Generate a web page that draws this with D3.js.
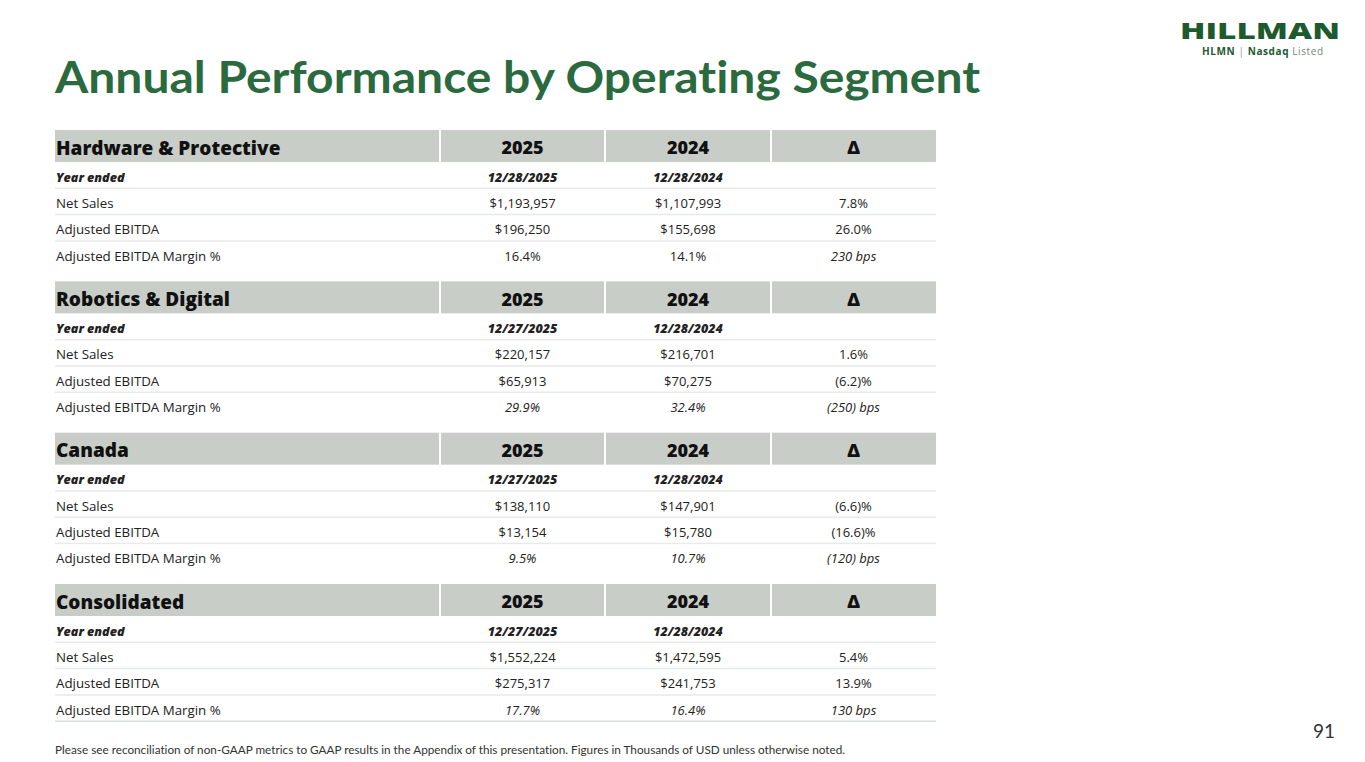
<!DOCTYPE html>
<html>
<head>
<meta charset="utf-8">
<script src="https://cdn.jsdelivr.net/npm/d3@7"></script>
<style>
  html, body { margin: 0; padding: 0; background: #fff; }
  svg { display: block; }
</style>
</head>
<body>
<div id="slide"></div>
<script>
// table values, thousands of USD
const segments = ["Hardware & Protective", "Robotics & Digital", "Canada", "Consolidated"];
const yearLabels = ["2025", "2024", "\u0394"];
const periodEnd2025 = ["12/28/2025", "12/27/2025", "12/27/2025", "12/27/2025"];
const periodEnd2024 = ["12/28/2024", "12/28/2024", "12/28/2024", "12/28/2024"];
const metrics = ["Net Sales", "Adjusted EBITDA", "Adjusted EBITDA Margin %"];

const netSales2025 = [1193957, 220157, 138110, 1552224];
const netSales2024 = [1107993, 216701, 147901, 1472595];
const netSalesChange = [7.8, 1.6, -6.6, 5.4];

const ebitda2025 = [196250, 65913, 13154, 275317];
const ebitda2024 = [155698, 70275, 15780, 241753];
const ebitdaChange = [26.0, -6.2, -16.6, 13.9];

const margin2025 = [16.4, 29.9, 9.5, 17.7];
const margin2024 = [14.1, 32.4, 10.7, 16.4];
const marginChangeBps = [230, -250, -120, 130];
const marginItalic = [false, true, true, true];

const width = 1365, height = 762;
const green = "#2b6a3e";
const bodyFont = "'Open Sans', sans-serif";

const money = d3.format("$,");
const pct = v => v < 0 ? `(${d3.format(".1f")(-v)})%` : `${d3.format(".1f")(v)}%`;
const bps = v => v < 0 ? `(${-v}) bps` : `${v} bps`;

const svg = d3.select("#slide").append("svg")
    .attr("width", width)
    .attr("height", height)
    .attr("viewBox", [0, 0, width, height]);

// title
svg.append("text")
    .attr("x", 55).attr("y", 93)
    .attr("fill", green)
    .style("font", `bold 44px 'Lato', sans-serif`)
    .style("font-variant-ligatures", "none")
    .style("font-feature-settings", "'liga' 0, 'clig' 0")
    .attr("textLength", 925)
    .attr("lengthAdjust", "spacingAndGlyphs")
    .text("Annual Performance by Operating Segment");

// logo
const logo = svg.append("g");
logo.append("text")
    .attr("x", 1180).attr("y", 38.5)
    .attr("fill", "#1d5a2e")
    .style("font", `900 22px 'Open Sans', sans-serif`)
    .attr("textLength", 160)
    .attr("lengthAdjust", "spacingAndGlyphs")
    .text("HILLMAN");
const sub = logo.append("text")
    .attr("x", 1202).attr("y", 54.5)
    .attr("textLength", 121)
    .style("font", `10px 'Open Sans', sans-serif`);
sub.append("tspan").attr("fill", "#1d5a2e").attr("font-weight", 700).text("HLMN");
sub.append("tspan").attr("fill", "#8a9a8e").text("  |  ");
sub.append("tspan").attr("fill", "#1d5a2e").attr("font-weight", 700).text("Nasdaq");
sub.append("tspan").attr("fill", "#6f8a76").text(" Listed");

// layout scales
const colEdges = [55, 440, 605, 771, 936];
const colCenter = i => (colEdges[i] + colEdges[i + 1]) / 2;
const blockY = d3.scaleLinear().domain([0, segments.length - 1]).range([130, 584]);
const headerH = 32;
const rowH = 26.3;
const rowY = d3.scaleLinear().domain([0, 4]).range([headerH, headerH + 4 * rowH]);

const blocks = svg.append("g")
    .selectAll("g")
    .data(segments)
    .join("g")
    .attr("transform", (d, i) => `translate(0,${blockY(i)})`);

// header band, white gaps between columns
blocks.selectAll("rect.head")
    .data(d3.range(4))
    .join("rect")
    .attr("class", "head")
    .attr("x", i => colEdges[i] + (i > 0 ? 1 : 0))
    .attr("y", 0)
    .attr("width", i => colEdges[i + 1] - colEdges[i] - (i > 0 ? 1 : 0) - (i < 3 ? 1 : 0))
    .attr("height", headerH)
    .attr("fill", "#c9cdc8");

blocks.append("text")
    .attr("x", 56).attr("y", headerH / 2 + 2)
    .attr("dy", "0.35em")
    .attr("fill", "#111")
    .style("font", `800 19px ${bodyFont}`)
    .text(d => d);

blocks.selectAll("text.year")
    .data(yearLabels)
    .join("text")
    .attr("class", "year")
    .attr("x", (d, i) => colCenter(i + 1))
    .attr("y", headerH / 2 + 2)
    .attr("dy", "0.35em")
    .attr("text-anchor", "middle")
    .attr("fill", "#111")
    .style("font", `800 18px ${bodyFont}`)
    .text(d => d);

// row separators
blocks.selectAll("line.sep")
    .data((d, i) => i === segments.length - 1 ? [1, 2, 3, 4] : [1, 2, 3])
    .join("line")
    .attr("class", "sep")
    .attr("x1", colEdges[0]).attr("x2", colEdges[4])
    .attr("y1", r => rowY(r)).attr("y2", r => rowY(r))
    .attr("stroke", r => r === 4 ? "#d5dde3" : "#e8e9eb")
    .attr("stroke-width", 1.5);

// body rows
function rowsFor(i) {
    return [
        {label: "Year ended", cells: [periodEnd2025[i], periodEnd2024[i], ""], head: true},
        {label: metrics[0], cells: [money(netSales2025[i]), money(netSales2024[i]), pct(netSalesChange[i])]},
        {label: metrics[1], cells: [money(ebitda2025[i]), money(ebitda2024[i]), pct(ebitdaChange[i])]},
        {label: metrics[2], cells: [pct(margin2025[i]), pct(margin2024[i]), bps(marginChangeBps[i])],
         italic: [marginItalic[i], marginItalic[i], true]}
    ];
}

const rows = blocks.selectAll("g.row")
    .data((d, i) => rowsFor(i))
    .join("g")
    .attr("class", "row")
    .attr("transform", (r, k) => `translate(0,${(rowY(k) + rowY(k + 1)) / 2 + 2})`);

rows.append("text")
    .attr("x", 56)
    .attr("dy", "0.35em")
    .attr("fill", "#222")
    .style("font", r => r.head ? `italic 800 12.5px ${bodyFont}` : `13.3px ${bodyFont}`)
    .text(r => r.label);

rows.selectAll("text.cell")
    .data(r => r.cells.map((c, j) => ({c, j, head: r.head, it: r.italic ? r.italic[j] : false})))
    .join("text")
    .attr("class", "cell")
    .attr("x", d => colCenter(d.j + 1))
    .attr("dy", "0.35em")
    .attr("text-anchor", "middle")
    .attr("fill", "#222")
    .style("font", d => d.head ? `italic 800 12.5px ${bodyFont}` : `${d.it ? "italic " : ""}13px ${bodyFont}`)
    .text(d => d.c);

// footnote and page number
svg.append("text")
    .attr("x", 55).attr("y", 754)
    .attr("fill", "#333")
    .style("font", `10.5px 'Lato', sans-serif`)
    .style("font-variant-ligatures", "none")
    .style("font-feature-settings", "'liga' 0, 'clig' 0")
    .attr("textLength", 790)
    .attr("lengthAdjust", "spacingAndGlyphs")
    .text("Please see reconciliation of non-GAAP metrics to GAAP results in the Appendix of this presentation. Figures in Thousands of USD unless otherwise noted.");

svg.append("text")
    .attr("x", 1335).attr("y", 738)
    .attr("text-anchor", "end")
    .attr("fill", "#333")
    .style("font", `19px 'Lato', sans-serif`)
    .text("91");
</script>
</body>
</html>
